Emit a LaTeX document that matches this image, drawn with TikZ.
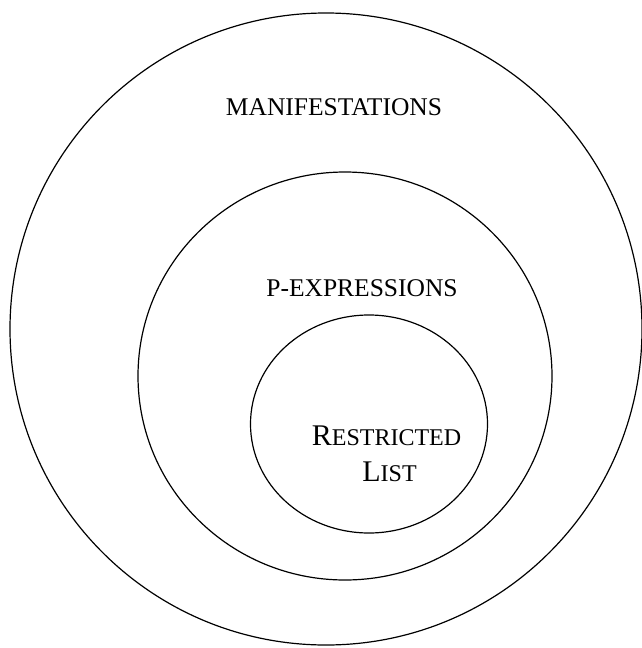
\documentclass[tikz,border=0pt]{standalone}
\usepackage{fontspec}
\setmainfont{Liberation Serif}
\usetikzlibrary{shapes.geometric}
\tikzset{ring/.style = {ellipse, line width=1.2pt, inner sep=0pt, draw},
           lab/.style = {anchor=base, inner sep=0pt, font=\fontsize{25.5}{30}\selectfont},
           sc/.style = {anchor=base, inner sep=0pt, font=\fontsize{24}{28}\selectfont}}

\begin{document}
\begin{tikzpicture}[x=1pt, y=-1pt]
    \useasboundingbox (0,0) rectangle (641,648);
    \node[ring, minimum width=632, minimum height=632] (manif) at (326,329) {};
    \node[ring, minimum width=414, minimum height=408] (pexpr) at (345,376) {};
    \node[ring, minimum width=237, minimum height=218] (rlist) at (369,424) {};
    \node[lab] (mlab) at (334,115) {MANIFESTATIONS};
    \node[lab] (plab) at (362,296.5) {P-EXPRESSIONS};
    \node[sc] (rlab) at (386.5,445) {{\fontsize{30}{34}\selectfont R}ESTRICTED};
    \node[sc] (llab) at (389.5,481.5) {{\fontsize{30}{34}\selectfont L}IST};
  \end{tikzpicture}
\end{document}
